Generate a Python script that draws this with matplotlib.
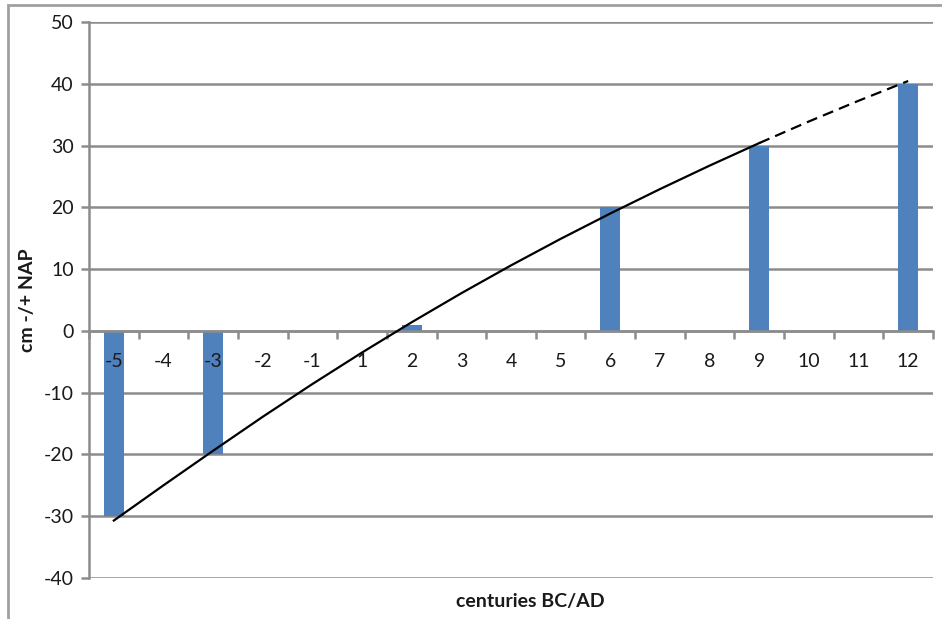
import matplotlib.pyplot as plt
import numpy as np
from matplotlib.patches import Rectangle

plt.rcParams['font.family'] = ['Lato', 'DejaVu Sans']

# categories (centuries BC/AD) and measured levels
centuries = ['-5', '-4', '-3', '-2', '-1', '1', '2', '3', '4', '5',
             '6', '7', '8', '9', '10', '11', '12']
levels = [-30, 0, -20, 0, 0, 0, 1, 0, 0, 0, 20, 0, 0, 30, 0, 0, 40]

# trend curve at each category
trend = [-30.7, -25.0, -19.4, -13.9, -8.6, -3.5, 1.4, 6.1, 10.6, 14.9,
         19.0, 22.95, 26.75, 30.4, 33.9, 37.25, 40.45]
solid_end = 13  # curve turns dashed after "9"

yticks = list(range(-40, 51, 10))

grid_col = '#8c8c8c'
bar_col = '#4f81bd'
txt_col = '#1a1a1a'

fig = plt.figure(figsize=(9.42, 6.19), dpi=100)
ax = fig.add_axes([89/942, 41/619, 844/942, 556/619])

x = np.arange(len(centuries))

for v in yticks:
    ax.axhline(v, color=grid_col, lw=1.8, zorder=0.5)

ax.bar(x, levels, width=0.4, color=bar_col, zorder=1)

ax.plot(x[:solid_end + 1], trend[:solid_end + 1], color='black', lw=1.6, zorder=3)
ax.plot(x[solid_end:], trend[solid_end:], color='black', lw=1.6,
        dashes=(5, 2.8), zorder=3)

ax.set_xlim(-0.5, len(centuries) - 0.5)
ax.set_ylim(-40, 50)
ax.set_axisbelow(False)

# x axis sits on zero
for s in ['top', 'right']:
    ax.spines[s].set_visible(False)
ax.spines['bottom'].set_position(('data', 0))
ax.spines['bottom'].set_color(grid_col)
ax.spines['bottom'].set_linewidth(1.8)
ax.spines['left'].set_color(grid_col)
ax.spines['left'].set_linewidth(1.8)

ax.set_xticks(np.arange(len(centuries) + 1) - 0.5)
ax.set_xticklabels([])
ax.set_xticks(x, minor=True)
ax.set_xticklabels(centuries, minor=True, fontsize=14)
ax.tick_params(axis='x', which='major', direction='out', length=6,
               width=1.8, color=grid_col)
ax.tick_params(axis='x', which='minor', length=0, pad=16, labelcolor=txt_col)

ax.set_yticks(yticks)
ax.set_yticklabels([str(v) for v in yticks], fontsize=14)
ax.tick_params(axis='y', direction='out', length=6, width=1.8, color=grid_col,
               pad=5, labelcolor=txt_col)

fig.text(28/942, 1 - 300/619, 'cm -/+ NAP', rotation=90, ha='center', va='center',
         fontsize=14, fontweight='bold', color=txt_col)
fig.text(530/942, 1 - 601/619, 'centuries BC/AD', ha='center', va='center',
         fontsize=14, fontweight='bold', color=txt_col)

# outer frame of the original chart
fig.add_artist(Rectangle((8/942, -0.1), 1.2, 1.1 - 5/619, transform=fig.transFigure,
                         fill=False, edgecolor='#a0a0a0', lw=2))

fig.savefig('out.png', dpi=100)
